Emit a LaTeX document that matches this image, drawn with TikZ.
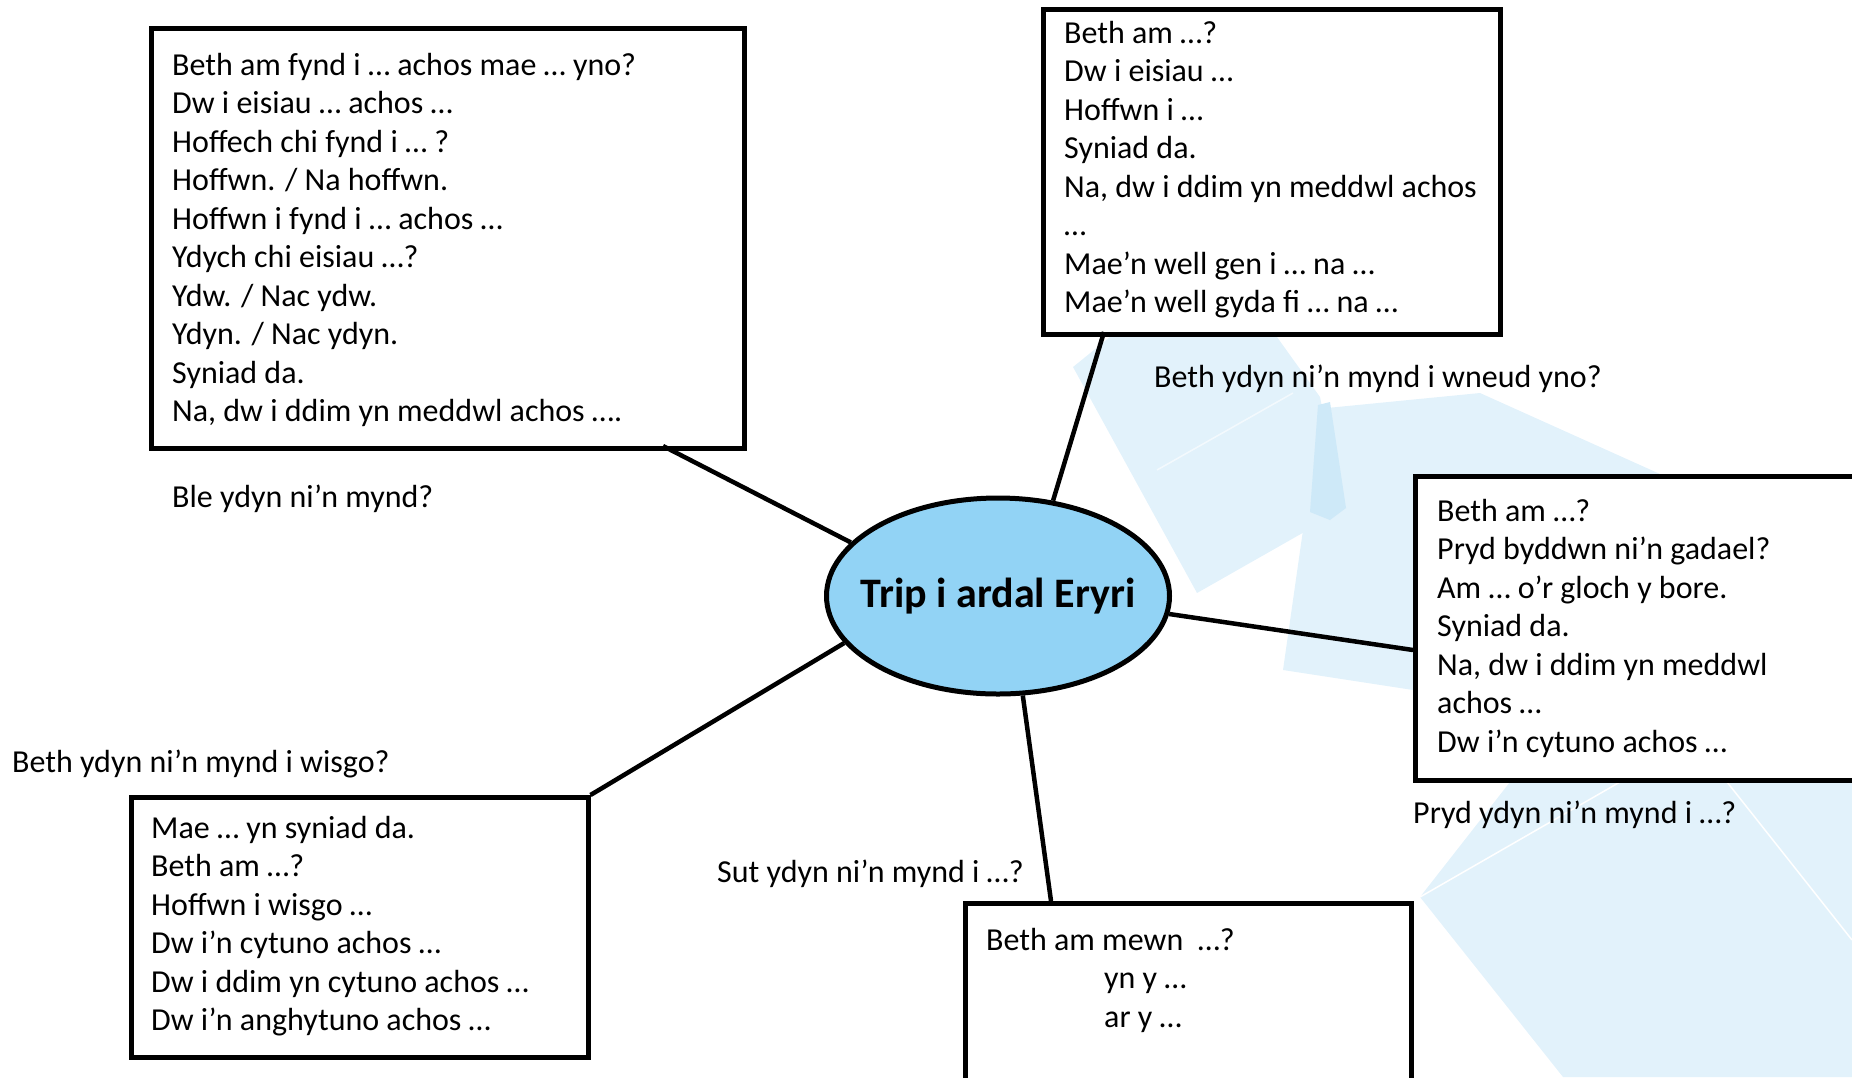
\documentclass[tikz,border=0pt]{standalone}
\usepackage{fontspec}
\setmainfont{Carlito}
\usetikzlibrary{shapes}
\definecolor{eryri}{RGB}{146,211,245}
\definecolor{faint}{RGB}{226,242,251}
\definecolor{faintdark}{RGB}{206,233,248}

\begin{document}
\begin{tikzpicture}[x=1pt,y=-1pt,
  box/.style={draw, line width=4.5pt, fill=white, anchor=north west, inner sep=0pt},
  phrases/.style={anchor=base west, align=left, inner sep=0pt, font=\fontsize{32}{38.5}\selectfont},
  question/.style={anchor=base west, inner sep=0pt, font=\fontsize{32}{38.5}\selectfont},
  link/.style={line width=4.5pt}]
\useasboundingbox (0,0) rectangle (1852,1077);
\clip (0,0) rectangle (1852,1077);
% faded shapes behind
\fill[faint] (1073,367) -- (1110,337) -- (1277,337) -- (1320,397) -- (1343,510) -- (1197,593) -- cycle;
\fill[faint] (1327,408) -- (1480,393) -- (1660,474) -- (1413,690) -- (1283,670) -- (1303,530) -- cycle;
\fill[faintdark] (1318,405) -- (1330,402) -- (1346,508) -- (1330,520) -- (1310,512) -- cycle;
\draw[white, line width=1.5pt, opacity=0.6] (1157,470) -- (1293,393);
\fill[faint] (1420,897) -- (1510,782) -- (1852,782) -- (1852,1077) -- (1563,1077) -- cycle;
\draw[white, line width=1.5pt] (1420,897) -- (1620,782);
\draw[white, line width=1.5pt] (1727,782) -- (1852,940);

\node[ellipse, draw, line width=5pt, fill=eryri, minimum width=343pt, minimum height=196pt, inner sep=0pt] (trip) at (998,596) {};
\node[font=\fontsize{42}{48}\selectfont\bfseries] (triptitle) at (trip) {Trip i ardal Eryri};

\node[box, minimum width=593pt, minimum height=420pt] (where) at (149,26) {};
\node[box, minimum width=457pt, minimum height=325pt] (do) at (1041,7) {};
\node[box, minimum width=520pt, minimum height=304pt] (when) at (1413,474) {};
\node[box, minimum width=457pt, minimum height=260pt] (wear) at (129,795) {};
\node[box, minimum width=446pt, minimum height=260pt] (how) at (963,901) {};

\coordinate (wherefoot) at (663,446);
\coordinate (dofoot) at (1104,332);
\coordinate (whenside) at (1413,650);
\coordinate (howtop) at (1051,901);
\draw[link] (wherefoot) -- (trip.160);
\draw[link] (dofoot) -- (trip.60);
\draw[link] (trip.-6) -- (whenside);
\draw[link] (trip.-76) -- (howtop);
\draw[link] (trip.197) -- (wear.north east);

% text nodes sit on the baseline of their last line
\node[phrases] (wheretext) at (172,421.5) {Beth am fynd i … achos mae … yno?\\Dw i eisiau … achos …\\Hoffech chi fynd i … ?\\Hoffwn. / Na hoffwn.\\Hoffwn i fynd i … achos …\\Ydych chi eisiau …?\\Ydw. / Nac ydw.\\Ydyn. / Nac ydyn.\\Syniad da.\\Na, dw i ddim yn meddwl achos ….};
\node[phrases] (dotext) at (1064,312.5) {Beth am …?\\Dw i eisiau …\\Hoffwn i …\\Syniad da.\\Na, dw i ddim yn meddwl achos\\…\\Mae’n well gen i … na …\\Mae’n well gyda fi … na …};
\node[phrases] (whentext) at (1437,752) {Beth am …?\\Pryd byddwn ni’n gadael?\\Am … o’r gloch y bore.\\Syniad da.\\Na, dw i ddim yn meddwl\\achos …\\Dw i’n cytuno achos …};
\node[phrases] (weartext) at (151,1030.5) {Mae … yn syniad da.\\Beth am …?\\Hoffwn i wisgo …\\Dw i’n cytuno achos …\\Dw i ddim yn cytuno achos …\\Dw i’n anghytuno achos …};
\node[phrases] (howtext) at (986,1027) {Beth am mewn\ \ …?\\\hspace*{118pt}yn y …\\\hspace*{118pt}ar y …};

\node[question] (whereq) at (172,507) {Ble ydyn ni’n mynd?};
\node[question] (doq) at (1154,387) {Beth ydyn ni’n mynd i wneud yno?};
\node[question] (whenq) at (1413,823) {Pryd ydyn ni’n mynd i …?};
\node[question] (howq) at (717,882) {Sut ydyn ni’n mynd i …?};
\node[question] (wearq) at (12,772) {Beth ydyn ni’n mynd i wisgo?};
\end{tikzpicture}
\end{document}
